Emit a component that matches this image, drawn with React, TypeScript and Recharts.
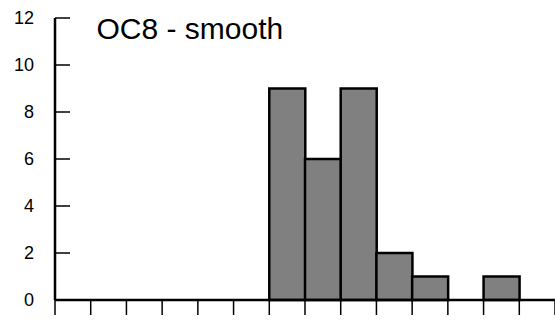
import { ComposedChart, Bar, XAxis, YAxis } from 'recharts';

// histogram bins: bin index (center at i + 0.5) and counts
const binCenters = [0.5, 1.5, 2.5, 3.5, 4.5, 5.5, 6.5, 7.5, 8.5, 9.5, 10.5, 11.5, 12.5, 13.5];
const counts = [0, 0, 0, 0, 0, 0, 9, 6, 9, 2, 1, 0, 1, 0];
const xTicks = [0, 1, 2, 3, 4, 5, 6, 7, 8, 9, 10, 11, 12, 13, 14];
const yTicks = [0, 2, 4, 6, 8, 10, 12];
const title = 'OC8 - smooth';

const data = binCenters.map((x, i) => ({ x, count: counts[i] }));

const font = '"Liberation Sans", Arial, Helvetica, sans-serif';

function YTick(props: any) {
  const { x, y, payload } = props;
  return (
    <g>
      <line x1={x} x2={x + 15} y1={y} y2={y} stroke="#000" strokeWidth={1.5} />
      <text
        x={x - 21}
        y={y}
        dy="0.34em"
        textAnchor="end"
        fontFamily={font}
        fontSize={18}
        fill="#000"
      >
        {payload.value}
      </text>
    </g>
  );
}

export default function App() {
  return (
    <div style={{ position: 'absolute', left: 0, top: 0, background: '#fff' }}>
      <ComposedChart
        width={555}
        height={323}
        data={data}
        margin={{ top: 18, right: 0, left: 0, bottom: 0 }}
        barCategoryGap={0}
        barGap={0}
      >
        <XAxis
          dataKey="x"
          type="number"
          domain={[0, 14]}
          ticks={xTicks}
          tickFormatter={() => ''}
          tickSize={15}
          height={23}
          stroke="#000"
          axisLine={{ stroke: '#000', strokeWidth: 2.5 }}
          tickLine={{ stroke: '#000', strokeWidth: 1.5 }}
          allowDataOverflow
        />
        <YAxis
          type="number"
          domain={[0, 12]}
          ticks={yTicks}
          width={55}
          tickSize={0}
          tickMargin={0}
          tickLine={false}
          axisLine={{ stroke: '#000', strokeWidth: 2.5 }}
          tick={<YTick />}
          interval={0}
        />
        <Bar
          dataKey="count"
          fill="#808080"
          stroke="#000"
          strokeWidth={2.5}
          isAnimationActive={false}
        />
        <text x={96.5} y={39} fontFamily={font} fontSize={30} fill="#000">
          {title}
        </text>
      </ComposedChart>
    </div>
  );
}
